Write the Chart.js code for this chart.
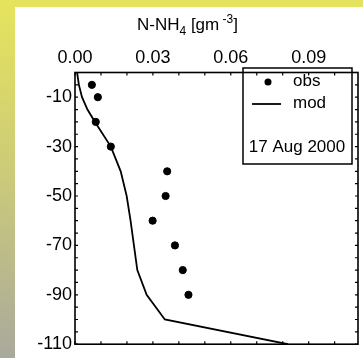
<!DOCTYPE html>
<html>
<head>
<meta charset="utf-8">
<script src="https://cdn.jsdelivr.net/npm/chart.js@4"></script>
<style>
  html, body { margin: 0; padding: 0; background: #e4e35f; }
  #wrap { width: 363px; height: 358px; position: relative; }
</style>
</head>
<body>
<div id="wrap"><canvas id="myChart" width="363" height="358"></canvas></div>
<script>
// observed N-NH4 profile (depth in m, concentration in g m-3)
const obsDepth = [-5, -10, -20, -30, -40, -50, -60, -70, -80, -90];
const obsConc = [0.0065, 0.0088, 0.0080, 0.0138, 0.0355, 0.0349, 0.0299, 0.0385, 0.0415, 0.0437];

// model profile
const modDepth = [0, -5, -10, -15, -20, -30, -40, -50, -60, -70, -80, -90, -100, -110];
const modConc = [0.0008, 0.0015, 0.0027, 0.0048, 0.0077, 0.0138, 0.0176, 0.0199, 0.0214, 0.0227, 0.0240, 0.0276, 0.0346, 0.0820];

const xTickLabels = [0, 0.03, 0.06, 0.09];
const yTickLabels = [-10, -30, -50, -70, -90, -110];

const FONT = '"Liberation Sans", Arial, sans-serif';

const toPoints = (xs, ys) => xs.map((v, i) => ({ x: v, y: ys[i] }));

// background panel, frame with inward ticks, title and legend box
const decor = {
  id: 'decor',
  beforeDraw(chart) {
    const ctx = chart.ctx;
    ctx.save();
    ctx.fillStyle = '#e4e35f';
    ctx.fillRect(0, 0, chart.width, chart.height);
    const g = ctx.createLinearGradient(0, 0, 0, chart.height);
    g.addColorStop(0, '#e6e45c');
    g.addColorStop(0.5, '#cbca7a');
    g.addColorStop(1, '#a9a99c');
    ctx.fillStyle = g;
    ctx.fillRect(0, 0, 15, chart.height);
    ctx.fillStyle = '#ffffff';
    ctx.fillRect(15, 7, chart.width - 15, chart.height - 7);
    ctx.restore();
  },
  afterDraw(chart) {
    const ctx = chart.ctx;
    const a = chart.chartArea;
    const xs = chart.scales.x, ys = chart.scales.y;
    ctx.save();
    ctx.strokeStyle = '#000';
    ctx.lineWidth = 1.6;
    ctx.strokeRect(a.left, a.top, a.right - a.left, a.bottom - a.top);

    ctx.lineWidth = 1.2;
    ctx.beginPath();
    for (let i = 0; i <= 10; i++) {
      const px = xs.getPixelForValue(i / 100);
      ctx.moveTo(px, a.top); ctx.lineTo(px, a.top + 3);
      ctx.moveTo(px, a.bottom); ctx.lineTo(px, a.bottom - 3);
    }
    for (let d = 0; d >= -110; d -= 5) {
      const py = ys.getPixelForValue(d);
      ctx.moveTo(a.left, py); ctx.lineTo(a.left + 3, py);
      ctx.moveTo(a.right, py); ctx.lineTo(a.right - 3, py);
    }
    ctx.stroke();

    // title with subscript and superscript
    ctx.fillStyle = '#000';
    ctx.textBaseline = 'alphabetic';
    ctx.textAlign = 'left';
    let x = 137;
    const base = 30;
    const parts = [
      { t: 'N-NH', size: 17, dy: 0 },
      { t: '4', size: 12, dy: 5 },
      { t: ' [gm', size: 17, dy: 0 },
      { t: ' -3', size: 12, dy: -7 },
      { t: ']', size: 17, dy: 0 }
    ];
    parts.forEach(p => {
      ctx.font = p.size + 'px ' + FONT;
      ctx.fillText(p.t, x, base + p.dy);
      x += ctx.measureText(p.t).width;
    });

    // legend
    ctx.lineWidth = 1.5;
    ctx.strokeRect(243, 68, 109, 96);
    ctx.beginPath();
    ctx.arc(268, 82, 3.5, 0, Math.PI * 2);
    ctx.fill();
    ctx.lineWidth = 1.8;
    ctx.beginPath();
    ctx.moveTo(252, 104); ctx.lineTo(281, 104);
    ctx.stroke();
    ctx.font = '17px ' + FONT;
    ctx.textBaseline = 'middle';
    ctx.fillText('obs', 293, 81);
    ctx.fillText('mod', 293, 103);
    ctx.textAlign = 'center';
    ctx.fillText('17 Aug 2000', 297, 147);
    ctx.restore();
  }
};

const config = {
  type: 'scatter',
  data: {
    datasets: [
      {
        label: 'obs',
        data: toPoints(obsConc, obsDepth),
        backgroundColor: '#000',
        borderColor: '#000',
        pointRadius: 3.6,
        showLine: false
      },
      {
        label: 'mod',
        data: toPoints(modConc, modDepth),
        borderColor: '#000',
        borderWidth: 1.8,
        pointRadius: 0,
        showLine: true,
        fill: false
      }
    ]
  },
  options: {
    responsive: false,
    animation: false,
    layout: { padding: { left: 0, top: 0, right: 4, bottom: 13 } },
    plugins: { legend: { display: false }, tooltip: { enabled: false } },
    scales: {
      x: {
        type: 'linear',
        position: 'top',
        min: 0,
        max: 0.109,
        afterBuildTicks: s => { s.ticks = xTickLabels.map(v => ({ value: v })); },
        afterFit: s => { s.height = 72.5; },
        grid: { display: false, drawTicks: false },
        border: { display: false },
        ticks: {
          color: '#000',
          font: { family: FONT, size: 18 },
          padding: 4,
          maxRotation: 0,
          callback: v => v.toFixed(2)
        }
      },
      y: {
        type: 'linear',
        min: -110,
        max: 0,
        afterBuildTicks: s => { s.ticks = yTickLabels.map(v => ({ value: v })); },
        afterFit: s => { s.width = 75; },
        grid: { display: false, drawTicks: false },
        border: { display: false },
        ticks: {
          color: '#000',
          font: { family: FONT, size: 18 },
          padding: 3
        }
      }
    }
  },
  plugins: [decor]
};

new Chart(document.getElementById('myChart'), config);
</script>
</body>
</html>
